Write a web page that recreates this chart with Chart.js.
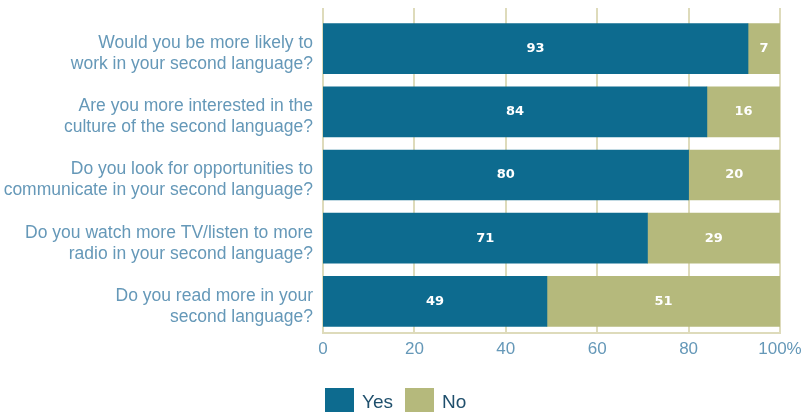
<!DOCTYPE html>
<html>
<head>
<meta charset="utf-8">
<script src="https://cdn.jsdelivr.net/npm/chart.js@4/dist/chart.umd.min.js"></script>
<style>
  html, body { margin: 0; padding: 0; background: #ffffff; }
  #wrap { position: relative; width: 804px; height: 412px; overflow: hidden; }
  #legend { position: absolute; left: 325px; top: 388px; display: flex; font-family: "Liberation Sans", sans-serif; font-size: 19px; color: #1f4f6c; }
  .item { display: flex; align-items: flex-start; margin-right: 12px; }
  .box { width: 29px; height: 26px; margin-right: 8px; }
  .lbl { line-height: 26px; margin-top: 1px; }
</style>
</head>
<body>
<div id="wrap">
  <canvas id="c" width="804" height="412"></canvas>
  <div id="legend"></div>
</div>
<script>
const categories = [
  ["Would you be more likely to", "work in your second language?"],
  ["Are you more interested in the", "culture of the second language?"],
  ["Do you look for opportunities to", "communicate in your second language?"],
  ["Do you watch more TV/listen to more", "radio in your second language?"],
  ["Do you read more in your", "second language?"]
];
const yesValues = [93, 84, 80, 71, 49];
const noValues = [7, 16, 20, 29, 51];
const xTickValues = [0, 20, 40, 60, 80, 100];
const seriesNames = ["Yes", "No"];
const seriesColors = ["#0d6b8f", "#b5b97c"];

const labelFont = '"Liberation Sans", sans-serif';
const gridColor = "#dedbbb";

const gridPlugin = {
  id: "customGrid",
  beforeDatasetsDraw(chart) {
    const ctx = chart.ctx;
    const xs = chart.scales.x;
    const area = chart.chartArea;
    ctx.save();
    ctx.strokeStyle = gridColor;
    ctx.lineWidth = 2;
    xTickValues.forEach(v => {
      const x = Math.round(xs.getPixelForValue(v));
      ctx.beginPath();
      ctx.moveTo(x, 8);
      ctx.lineTo(x, area.bottom);
      ctx.stroke();
    });
    ctx.beginPath();
    ctx.moveTo(xs.getPixelForValue(0) - 1, area.bottom);
    ctx.lineTo(xs.getPixelForValue(100) + 1, area.bottom);
    ctx.stroke();
    ctx.restore();
  }
};

const valueLabelPlugin = {
  id: "valueLabels",
  afterDatasetsDraw(chart) {
    const ctx = chart.ctx;
    ctx.save();
    ctx.fillStyle = "#ffffff";
    ctx.font = "bold 13px 'DejaVu Sans', sans-serif";
    ctx.textAlign = "center";
    ctx.textBaseline = "middle";
    chart.data.datasets.forEach((ds, di) => {
      const meta = chart.getDatasetMeta(di);
      meta.data.forEach((bar, i) => {
        const left = Math.min(bar.x, bar.base);
        const right = Math.max(bar.x, bar.base);
        ctx.fillText(String(ds.data[i]), (left + right) / 2, bar.y);
      });
    });
    ctx.restore();
  }
};

const chart = new Chart(document.getElementById("c"), {
  type: "bar",
  data: {
    labels: categories,
    datasets: [
      { label: seriesNames[0], data: yesValues, backgroundColor: seriesColors[0], borderWidth: 0 },
      { label: seriesNames[1], data: noValues, backgroundColor: seriesColors[1], borderWidth: 0 }
    ]
  },
  options: {
    indexAxis: "y",
    responsive: false,
    animation: false,
    devicePixelRatio: 1,
    layout: { padding: { top: 17, right: 24, bottom: 0, left: 0 } },
    datasets: { bar: { barThickness: 50 } },
    plugins: {
      legend: { display: false },
      tooltip: { enabled: false }
    },
    scales: {
      x: {
        stacked: true,
        min: 0,
        max: 100,
        afterBuildTicks(scale) { scale.ticks = xTickValues.map(v => ({ value: v })); },
        afterFit(scale) { scale.height = 79; scale.paddingLeft = 0; scale.paddingRight = 0; },
        grid: { display: false, drawTicks: false },
        border: { display: false },
        ticks: {
          padding: 6,
          color: "#6598b8",
          font: { family: labelFont, size: 17 },
          callback: v => v === 100 ? "100%" : String(v)
        }
      },
      y: {
        stacked: true,
        afterFit(scale) { scale.width = 323; scale.paddingTop = 0; scale.paddingBottom = 0; },
        grid: { display: false, drawTicks: false },
        border: { display: false },
        ticks: {
          padding: 10,
          labelOffset: 5,
          color: "#6598b8",
          font: { family: labelFont, size: 17.5, lineHeight: 1.2 }
        }
      }
    }
  },
  plugins: [gridPlugin, valueLabelPlugin]
});

const legend = document.getElementById("legend");
chart.data.datasets.forEach(ds => {
  const item = document.createElement("div");
  item.className = "item";
  const box = document.createElement("div");
  box.className = "box";
  box.style.background = ds.backgroundColor;
  const lbl = document.createElement("span");
  lbl.className = "lbl";
  lbl.textContent = ds.label;
  item.appendChild(box);
  item.appendChild(lbl);
  legend.appendChild(item);
});
</script>
</body>
</html>
